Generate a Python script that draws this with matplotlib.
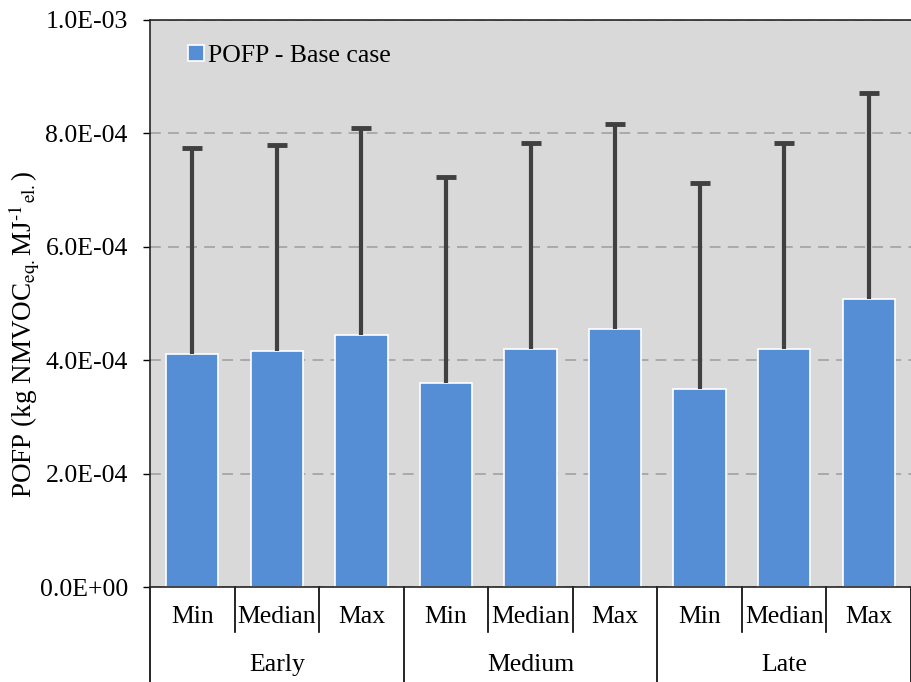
import matplotlib.pyplot as plt
import numpy as np

# values
groups = ["Early", "Medium", "Late"]
cases = ["Min", "Median", "Max"]
base = [4.11e-4, 4.16e-4, 4.45e-4,
        3.60e-4, 4.20e-4, 4.55e-4,
        3.49e-4, 4.20e-4, 5.08e-4]
upper = [7.74e-4, 7.80e-4, 8.10e-4,
         7.23e-4, 7.83e-4, 8.17e-4,
         7.13e-4, 7.83e-4, 8.72e-4]
yticks = [0, 2e-4, 4e-4, 6e-4, 8e-4, 1e-3]

plt.rcParams['font.family'] = ['Liberation Serif', 'DejaVu Serif']
plt.rcParams['mathtext.fontset'] = 'stix'

fig = plt.figure(figsize=(9.12, 6.82), dpi=100)
ax = fig.add_axes([150 / 912, 1 - 587 / 682, 761 / 912, 567 / 682])
ax.set_facecolor('#D9D9D9')

x = np.arange(len(base))
ax.bar(x, base, width=0.62, color='#558ED5', edgecolor='white', linewidth=1.2,
       label='POFP - Base case', zorder=2)
# upper-only error bars
ax.vlines(x, base, upper, color='#404040', lw=3, zorder=3)
ax.plot(x, upper, linestyle='none', marker='_', markersize=14, mew=3.5,
        color='#404040', zorder=3)

ax.set_xlim(-0.5, len(base) - 0.5)
ax.set_ylim(0, 1e-3)
ax.set_yticks(yticks)
ax.set_yticklabels([f"{v:.1E}" for v in yticks], fontsize=18.5)
ax.yaxis.grid(True, color='#A6A6A6', linestyle=(0, (6, 4)), linewidth=1.3, zorder=1)
ax.tick_params(axis='y', direction='out', length=5, width=1, pad=11)
ax.set_xticks([])
for s in ax.spines.values():
    s.set_color('#262626')
    s.set_linewidth(1.2)
ax.spines['right'].set_visible(False)

ax.set_ylabel(r"POFP (kg NMVOC$_{\mathrm{eq.}}$MJ$^{\text{-1}}$$_{\mathrm{el.}}$)",
              fontsize=19.5, va='center')
ax.yaxis.set_label_coords(-0.165, 0.446)

# two-level category axis
trans = ax.get_xaxis_transform()
for i in range(len(base) + 1):
    b = i - 0.5
    low = -0.168 if i % 3 == 0 else -0.079
    ax.plot([b, b], [0, low], transform=trans, color='black', lw=1.2, clip_on=False)
for i, xi in enumerate(x):
    ax.text(xi, -0.053, cases[i % 3], transform=trans, ha='center', va='center', fontsize=18.5)
for g, name in enumerate(groups):
    ax.text(3 * g + 1, -0.137, name, transform=trans, ha='center', va='center', fontsize=18.5)

leg = ax.legend(loc='upper left', bbox_to_anchor=(0.02, 0.997), frameon=False, fontsize=18.5,
                handlelength=0.6, handleheight=0.6, handletextpad=0.15)

fig.savefig('out.png', dpi=100)
